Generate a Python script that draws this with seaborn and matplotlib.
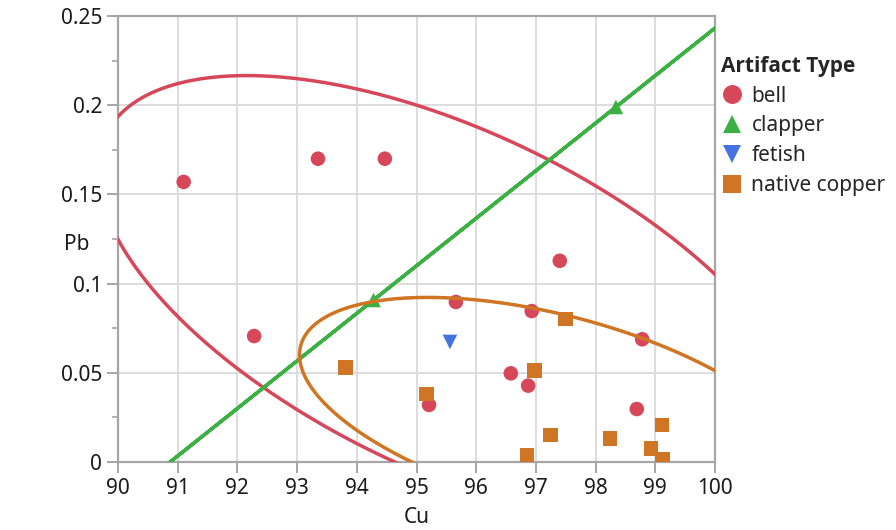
import numpy as np
import pandas as pd
import seaborn as sns
import matplotlib
matplotlib.use('Agg')
import matplotlib.pyplot as plt
from matplotlib.ticker import MultipleLocator

# values
bell_cu = [91.1, 92.28, 93.35, 94.47, 95.66, 96.93, 97.40, 98.78, 96.58, 96.87, 95.21, 98.69]
bell_pb = [0.157, 0.0706, 0.170, 0.170, 0.0897, 0.0846, 0.1128, 0.0688, 0.0497, 0.0428, 0.032, 0.0297]
clapper_cu = [94.28, 98.34]
clapper_pb = [0.0908, 0.199]
fetish_cu = [95.56]
fetish_pb = [0.0673]
native_cu = [93.81, 95.17, 97.50, 96.98, 96.85, 97.24, 98.24, 99.11, 98.93, 99.12]
native_pb = [0.0529, 0.038, 0.0802, 0.0512, 0.0037, 0.0151, 0.0133, 0.0207, 0.0075, 0.0017]

types = ['bell', 'clapper', 'fetish', 'native copper']
colors = {'bell': '#d6475a', 'clapper': '#3cb043', 'fetish': '#4472e0', 'native copper': '#cf7524'}
markers = {'bell': 'o', 'clapper': '^', 'fetish': 'v', 'native copper': 's'}

x_ticks = [90, 91, 92, 93, 94, 95, 96, 97, 98, 99, 100]
y_ticks = [0, 0.05, 0.1, 0.15, 0.2, 0.25]
y_tick_labels = ['0', '0.05', '0.1', '0.15', '0.2', '0.25']

CHI2_95 = 5.991  # 95% quantile, chi-square with 2 dof


def density_ellipse(x, y, n=400):
    data = np.column_stack([x, y])
    mean = data.mean(axis=0)
    cov = np.cov(data, rowvar=False)
    vals, vecs = np.linalg.eigh(cov)
    vals = np.clip(vals, 0, None)
    t = np.linspace(0, 2 * np.pi, n)
    circle = np.vstack([np.cos(t), np.sin(t)])
    pts = vecs @ (np.sqrt(vals * CHI2_95)[:, None] * circle)
    return mean[0] + pts[0], mean[1] + pts[1]


def main():
    df = pd.concat([
        pd.DataFrame({'Cu': bell_cu, 'Pb': bell_pb, 'Artifact Type': 'bell'}),
        pd.DataFrame({'Cu': clapper_cu, 'Pb': clapper_pb, 'Artifact Type': 'clapper'}),
        pd.DataFrame({'Cu': fetish_cu, 'Pb': fetish_pb, 'Artifact Type': 'fetish'}),
        pd.DataFrame({'Cu': native_cu, 'Pb': native_pb, 'Artifact Type': 'native copper'}),
    ], ignore_index=True)

    sns.set_theme(style='whitegrid')
    plt.rcParams['font.family'] = ['Noto Sans', 'DejaVu Sans']
    plt.rcParams['font.size'] = 15

    fig = plt.figure(figsize=(8.96, 5.30), dpi=100)
    ax = fig.add_axes([118 / 896, 68 / 530, 597 / 896, 446 / 530])

    sns.scatterplot(data=df, x='Cu', y='Pb', hue='Artifact Type', style='Artifact Type',
                    hue_order=types, style_order=types, palette=colors, markers=markers,
                    s=110, linewidth=0, ax=ax, zorder=3)

    for t in types:
        sub = df[df['Artifact Type'] == t]
        if len(sub) < 2:
            continue
        ex, ey = density_ellipse(sub['Cu'].values, sub['Pb'].values)
        ax.plot(ex, ey, color=colors[t], lw=2.5, zorder=4, solid_capstyle='round')

    ax.set_xlim(90, 100)
    ax.set_ylim(0, 0.25)
    ax.set_xticks(x_ticks)
    ax.set_xticklabels([str(v) for v in x_ticks])
    ax.set_yticks(y_ticks)
    ax.set_yticklabels(y_tick_labels)
    ax.yaxis.set_minor_locator(MultipleLocator(0.025))

    ax.grid(True, which='major', color='#dadada', lw=1.3)
    ax.grid(False, which='minor')
    for side in ['left', 'bottom', 'top', 'right']:
        ax.spines[side].set_color('#a6a6a6')
        ax.spines[side].set_linewidth(1.6)
    ax.tick_params(axis='both', which='major', direction='out', length=8, width=1.4,
                   color='#a6a6a6', labelsize=15, labelcolor='#1a1a1a', pad=3.5,
                   left=True, bottom=True)
    ax.tick_params(axis='y', which='minor', direction='out', length=4, width=1.2,
                   color='#a6a6a6', left=True)

    ax.set_xlabel('Cu', fontsize=15, color='#1a1a1a', labelpad=6)
    ax.set_ylabel('Pb', fontsize=15, color='#1a1a1a', rotation=0, ha='center', va='center')
    ax.yaxis.set_label_coords(-0.069, 0.487)

    handles, labels = ax.get_legend_handles_labels()
    leg = ax.legend(handles, labels, title='Artifact Type', loc='upper left',
                    bbox_to_anchor=(0.993, 0.934), frameon=False, fontsize=15,
                    handletextpad=0.45, labelspacing=0.42, borderaxespad=0.1,
                    handlelength=1.0, markerscale=1.3, alignment='left')
    title = leg.get_title()
    title.set_family(['Open Sans', 'Lato', 'DejaVu Sans'])
    title.set_fontweight('bold')
    title.set_fontsize(15)

    plt.savefig('out.png', dpi=100)


if __name__ == '__main__':
    main()
